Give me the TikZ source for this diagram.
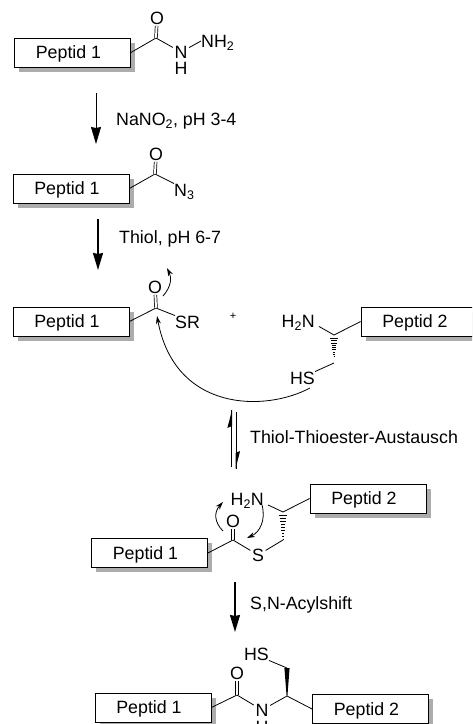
\documentclass[tikz,border=0pt]{standalone}
\usepackage{fontspec}
\setmainfont{Liberation Sans}
\usetikzlibrary{calc,arrows.meta}
\tikzset{
  x=1pt,y=-1pt,
  pbox/.style={draw=black,fill=white,line width=.8pt,minimum width=116pt,minimum height=29pt,inner sep=0pt,
    text height=12.5pt,text depth=0pt,
    font=\fontsize{17.8}{17.8}\selectfont},
  shadowbox/.style={fill=gray!65,draw=none},
  atom/.style={inner sep=1.5pt,text height=12.5pt,text depth=0pt,font=\fontsize{17.8}{17.8}\selectfont},
  lbl/.style={inner sep=0pt,anchor=west,text height=12.5pt,text depth=0pt,font=\fontsize{17.8}{17.8}\selectfont},
  bond/.style={line width=.8pt},
  dbl/.style={line width=.7pt,double,double distance=2pt},
  rxn/.style={line width=.9pt,-{Stealth[length=17pt,width=10pt,inset=1pt]}},
  rxnb/.style={line width=1.6pt,-{Stealth[length=17pt,width=10pt,inset=1pt]}},
  curly/.style={line width=.8pt,-{Stealth[length=8pt,width=5pt]}},
  eqline/.style={line width=1pt},
}
\newcommand{\hashbond}[2]{%
  \foreach \t in {0.02,0.14,...,1.0}{
    \pgfmathsetmacro{\hw}{3.2*(1-\t)+.4}
    \draw[line width=.8pt] ($(#1)!\t!(#2)+(-\hw,0)$) -- ($(#1)!\t!(#2)+(\hw,0)$);
  }}
% name, x, y, text
\newcommand{\peptidbox}[4]{%
  \fill[shadowbox] ($(#2,#3)+(-53.5,-10)$) rectangle ($(#2,#3)+(62.5,19)$);
  \node[pbox] (#1) at (#2,#3) {#4\hspace*{8pt}};}
\begin{document}
\begin{tikzpicture}
\useasboundingbox (0,0) rectangle (472,724);
\clip (0,0) rectangle (472,724);
% --- structure 1
\peptidbox{a1}{72.5}{52.5}{Peptid 1}
\coordinate (c1) at (156,38);
\node[atom] (o1) at (157,18) {O};
\node[atom] (n1) at (181,52) {N};
\node[atom] (h1) at (181,68.5) {H};
\node[atom,anchor=west,inner sep=0pt] (nh2) at (201,41) {NH\textsubscript{2}};
\draw[bond] (a1.east) -- (c1);
\draw[dbl] (c1) -- (o1);
\draw[bond] (c1) -- (n1);
\draw[bond] (n1) -- (nh2.west);
% --- arrow 1
\coordinate (r1s) at (96,93); \coordinate (r1e) at (96,144);
\draw[rxn] (r1s) -- (r1e);
\node[lbl] (l1) at (116,119.5) {NaNO\textsubscript{2}, pH 3-4};
% --- structure 2
\peptidbox{a2}{71}{188.5}{Peptid 1}
\coordinate (c2) at (155,174);
\node[atom] (o2) at (156,154) {O};
\node[atom,anchor=west,inner sep=0pt] (n3) at (174,190) {N\textsubscript{3}};
\draw[bond] (a2.east) -- (c2);
\draw[dbl] (c2) -- (o2);
\draw[bond] (c2) -- (n3.north west);
% --- arrow 2
\coordinate (r2s) at (98,219); \coordinate (r2e) at (98,270);
\draw[rxnb] (r2s) -- (r2e);
\node[lbl] (l2) at (119,237.5) {Thiol, pH 6-7};
% --- structure 3
\peptidbox{a3}{71}{321.5}{Peptid 1}
\coordinate (c3) at (156,308);
\node[atom] (o3) at (155,287) {O};
\node[atom,anchor=west,inner sep=0pt] (sr) at (175,322) {SR};
\draw[bond] (a3.east) -- (c3);
\draw[dbl] (c3) -- (o3);
\draw[bond] (c3) -- (sr.north west);
\node[inner sep=0pt,font=\fontsize{11}{11}\selectfont] (plus) at (233,316) {+};
\peptidbox{b3}{419}{321.5}{Peptid 2}
\coordinate (d3) at (334,335);
\coordinate (d3h) at (334,338);
\coordinate (d3m) at (334,357);
\coordinate (d3b) at (334,363);
\node[atom,anchor=east,inner sep=0pt] (h2n3) at (315,321) {H\textsubscript{2}N};
\node[atom,anchor=east,inner sep=0pt] (hs3) at (315,378) {HS};
\draw[bond] (d3) -- (b3.west);
\draw[bond] (h2n3.south east) ++(4,-1) -- (d3);
\hashbond{d3h}{d3m}
\draw[bond] (d3b) -- (hs3.north east);
\coordinate (k1) at (163,296); \coordinate (k2) at (167,268);
\draw[curly] (k1) .. controls (171,287) and (172,278) .. (k2);
\coordinate (k3) at (310,388); \coordinate (k4) at (157,316);
\draw[curly] (k3) .. controls (265,412) and (175,412) .. (k4);
% --- equilibrium
\coordinate (e1s) at (231.5,467); \coordinate (e1e) at (231.5,410);
\coordinate (e2s) at (236,412); \coordinate (e2e) at (236,469);
\draw[eqline] (e1s) -- (e1e);
\draw[eqline] (e2s) -- (e2e);
\fill (e1e) ++(.5,0) -- ++(-4.6,18) -- ++(4.6,-2) -- cycle;
\fill (e2e) ++(-.5,0) -- ++(4.6,-18) -- ++(-4.6,2) -- cycle;
\node[lbl] (l3) at (250,437.5) {Thiol-Thioester-Austausch};
% --- structure 4
\peptidbox{a4}{149.5}{553}{Peptid 1}
\peptidbox{b4}{368}{498.5}{Peptid 2}
\coordinate (c4) at (233,540);
\node[atom] (o4) at (233,521) {O};
\node[atom] (s4) at (258,555) {S};
\coordinate (d4) at (283,512);
\coordinate (d4h) at (283,515);
\coordinate (e4) at (283,540);
\node[atom,anchor=east,inner sep=0pt] (h2n4) at (264,499.5) {H\textsubscript{2}N};
\draw[bond] (a4.east) -- (c4);
\draw[dbl] (c4) -- (o4);
\draw[bond] (c4) -- (s4);
\draw[bond] (s4) -- (e4);
\hashbond{d4h}{e4}
\draw[bond] (d4) -- (b4.west);
\draw[bond] (h2n4.south east) ++(4,-1) -- (d4);
\coordinate (k5) at (262,505); \coordinate (k6) at (247,538);
\draw[curly] (k5) .. controls (266,520) and (260,532) .. (k6);
\coordinate (k7) at (223,531); \coordinate (k8) at (223,502);
\draw[curly] (k7) .. controls (214,522) and (214,512) .. (k8);
% --- arrow 3
\coordinate (r3s) at (235,582); \coordinate (r3e) at (235,632);
\draw[rxnb] (r3s) -- (r3e);
\node[lbl] (l4) at (250,603) {S,N-Acylshift};
% --- structure 5
\peptidbox{a5}{153}{707.5}{Peptid 1}
\peptidbox{b5}{370.5}{709}{Peptid 2}
\coordinate (c5) at (237,695);
\node[atom] (o5) at (237,673) {O};
\node[atom] (n5) at (262,710) {N};
\node[atom] (h5) at (262,727) {H};
\coordinate (d5) at (287,696);
\coordinate (e5) at (287,668);
\node[atom,anchor=east,inner sep=0pt] (hs5) at (269,654) {HS};
\draw[bond] (a5.east) -- (c5);
\draw[dbl] (c5) -- (o5);
\draw[bond] (c5) -- (n5);
\draw[bond] (n5) -- (d5);
\draw[bond] (d5) -- (b5.west);
\fill ($(d5)+(-.4,0)$) -- ($(e5)+(-2.6,0)$) -- ($(e5)+(2.6,0)$) -- ($(d5)+(.4,0)$) -- cycle;
\draw[bond] (e5) -- (hs5.south east);
\end{tikzpicture}
\end{document}
